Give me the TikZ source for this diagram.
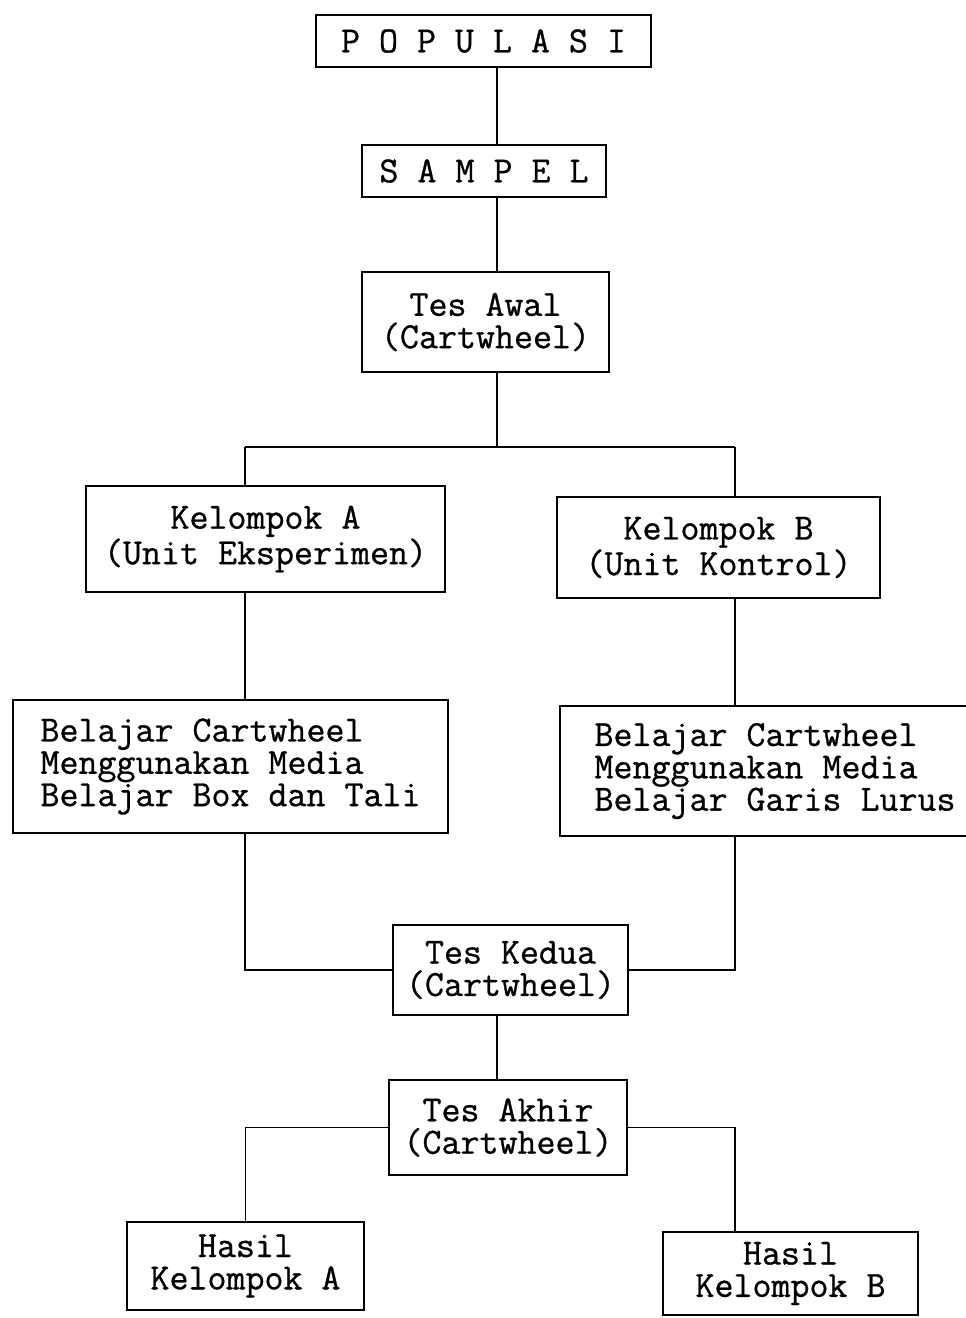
\documentclass[tikz,border=0pt]{standalone}
\usepackage{fontspec}
\setmonofont{Latin Modern Mono}[FakeBold=0.8]
\tikzset{
    box/.style={draw, line width=1.1pt, inner sep=0pt, align=center,
        font=\ttfamily\fontsize{21}{18.4}\selectfont},
    link/.style={line width=1.1pt}
}
\begin{document}
\begin{tikzpicture}[x=0.02cm, y=-0.02cm]
        \useasboundingbox (0, 0) rectangle (966, 1318);

        %%top
        \node[box, minimum width=335*0.02cm, minimum height=52*0.02cm] (pop) at (483.5, 41){P O P U L A S I};
        \node[box, minimum width=244*0.02cm, minimum height=52*0.02cm] (samp) at (484, 171){S A M P E L};
        \node[box, minimum width=247*0.02cm, minimum height=100*0.02cm] (awal) at (485.5, 322){Tes Awal\\(Cartwheel)};

        %%groups
        \node[box, minimum width=359*0.02cm, minimum height=106*0.02cm] (kA) at (265.5, 539){Kelompok A\\(Unit Eksperimen)};
        \node[box, minimum width=323*0.02cm, minimum height=101*0.02cm] (kB) at (718.5, 547.5){Kelompok B\\(Unit Kontrol)};
        \node[box, align=left, minimum width=435*0.02cm, minimum height=133*0.02cm] (bA) at (230.5, 766.5){Belajar Cartwheel\\Menggunakan Media\\Belajar Box dan Tali};
        \node[box, align=left, minimum width=430*0.02cm, minimum height=130*0.02cm] (bB) at (775, 771){Belajar Cartwheel\\Menggunakan Media\\Belajar Garis Lurus};

        %%tests
        \node[box, minimum width=235*0.02cm, minimum height=90*0.02cm] (kedua) at (510.5, 970){Tes Kedua\\(Cartwheel)};
        \node[box, minimum width=238*0.02cm, minimum height=95*0.02cm] (akhir) at (508, 1127.5){Tes Akhir\\(Cartwheel)};

        %%results
        \node[box, minimum width=237*0.02cm, minimum height=88*0.02cm] (hA) at (245.5, 1266){Hasil\\Kelompok A};
        \node[box, minimum width=255*0.02cm, minimum height=83*0.02cm] (hB) at (790.5, 1273.5){Hasil\\Kelompok B};

        %%lines
        \coordinate (spine) at (497, 0);
        \coordinate (jA) at (245, 447);
        \coordinate (jB) at (735, 447);
        \draw[link](pop.south -| spine) to (samp.north -| spine);
        \draw[link](samp.south -| spine) to (awal.north -| spine);
        \draw[link](awal.south -| spine) to (jA -| spine);
        \draw[link](jA) to (jB);
        \draw[link](jA) to (jA |- kA.north);
        \draw[link](jB) to (jB |- kB.north);
        \draw[link](kA.south -| jA) to (bA.north -| jA);
        \draw[link](kB.south -| jB) to (bB.north -| jB);
        \draw[link](bA.south -| jA) |- (kedua.west);
        \draw[link](bB.south -| jB) |- (kedua.east);
        \draw[link](kedua.south -| spine) to (akhir.north -| spine);
        \draw[link](akhir.west) -| (hA.north);
        \draw[link](akhir.east) -| (jB |- hB.north);

    \end{tikzpicture}
\end{document}
